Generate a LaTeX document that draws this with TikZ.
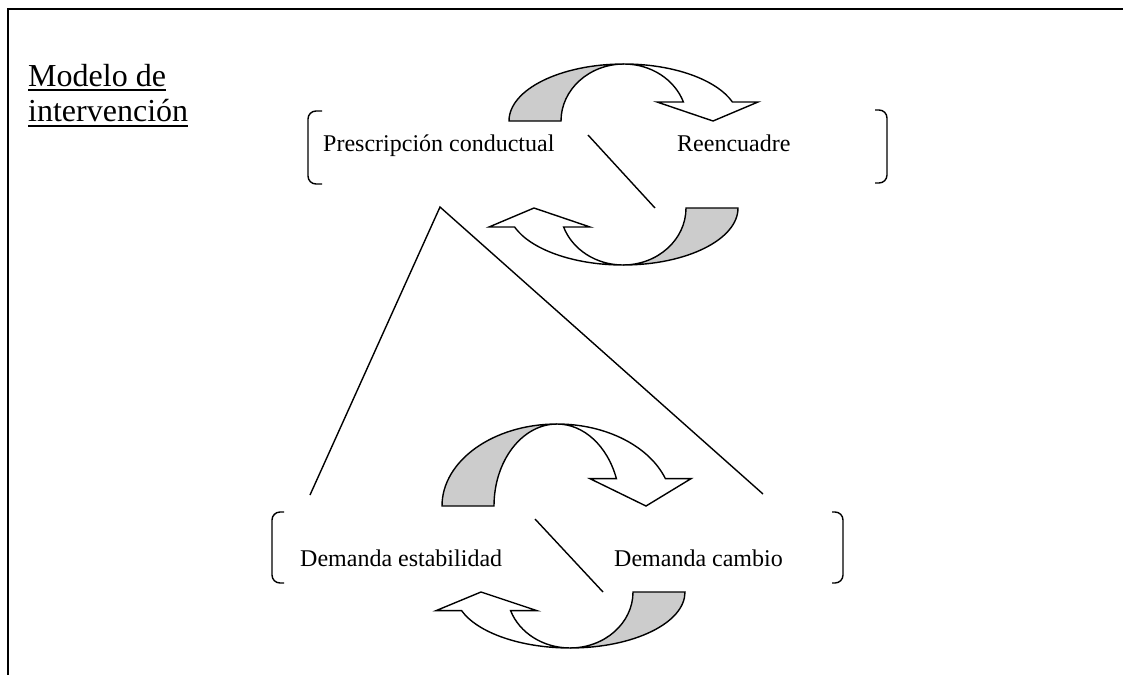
\documentclass[tikz,border=0pt]{standalone}
\usepackage{fontspec}
\setmainfont{Liberation Serif}
\definecolor{backgrey}{gray}{0.8}
% Twisted curved arrow: shaded back strip on the left, white front band with head on the right.
% Centre of both ellipses at the local origin; base line at y=0, top at y=-57.
\newcommand\twistarrow[1]{%
  \begin{scope}[#1]
    \path[backside] (-115,0)
      arc[start angle=180, end angle=270, x radius=115, y radius=57]
      arc[start angle=270, end angle=180, x radius=63, y radius=57] -- cycle;
    \path[frontside] (0,-57)
      arc[start angle=270, end angle=340.53, x radius=115, y radius=57]
      -- (134,-19) -- (89,0) -- (33,-19) -- (59.4,-19)
      arc[start angle=340.53, end angle=270, x radius=63, y radius=57] -- cycle;
  \end{scope}}
\begin{document}
\begin{tikzpicture}[x=1pt, y=-1pt,
  frameline/.style={line width=2.6pt},
  edge/.style={line width=1.4pt},
  bracket/.style={line width=1.4pt, rounded corners=8pt},
  backside/.style={fill=backgrey, draw=black, line width=1.4pt, line join=miter},
  frontside/.style={fill=white, draw=black, line width=1.4pt, line join=miter},
  label/.style={font=\fontsize{24}{28}\selectfont, anchor=base west, inner sep=0pt},
  title/.style={font=\fontsize{32}{36}\selectfont, anchor=base west, inner sep=0pt}]
\useasboundingbox (0,0) rectangle (1123,675);

% page frame (top and left edges)
\coordinate (fc) at (8,9);
\coordinate (fr) at (1123,9);
\coordinate (fb) at (8,675);
\draw[frameline] (fr) -- (fc) -- (fb);

% title
\node[title] (title1) at (28,86) {Modelo de};
\node[title] (title2) at (28,121) {intervención};
\draw[line width=1.8pt] ([yshift=-4pt]title1.base west) -- ([yshift=-4pt]title1.base east);
\draw[line width=1.8pt] ([yshift=-5pt]title2.base west) -- ([yshift=-5pt]title2.base east);

% upper group
\draw[bracket] (322,111) -- (308,111) -- (308,184) -- (322,184);
\draw[bracket] (875,110) -- (887,110) -- (887,183) -- (875,183);
\node[label] (presc) at (323,151) {Prescripción conductual};
\node[label] (reenc) at (677,151) {Reencuadre};
\twistarrow{shift={(624,121)}}
\twistarrow{shift={(623,208)}, xscale=-1, yscale=-1}
\coordinate (ua) at (588,135);
\coordinate (ub) at (655,208);
\draw[edge] (ua) -- (ub);

% lower group
\draw[bracket] (284,512) -- (272,512) -- (272,583) -- (284,583);
\draw[bracket] (832,512) -- (843,512) -- (843,583) -- (832,583);
\node[label] (estab) at (300,566) {Demanda estabilidad};
\node[label] (cambio) at (614,566) {Demanda cambio};
\twistarrow{shift={(557,506)}, yscale=1.4386}
\twistarrow{shift={(570,592)}, xscale=-1, yscale=-0.982}
\coordinate (la) at (535,519);
\coordinate (lb) at (603,592);
\draw[edge] (la) -- (lb);

% triangle joining the two groups
\coordinate (apex) at (440,207);
\coordinate (legl) at (310,495);
\coordinate (legr) at (763,494);
\draw[edge] (legl) -- (apex) -- (legr);
\end{tikzpicture}
\end{document}
